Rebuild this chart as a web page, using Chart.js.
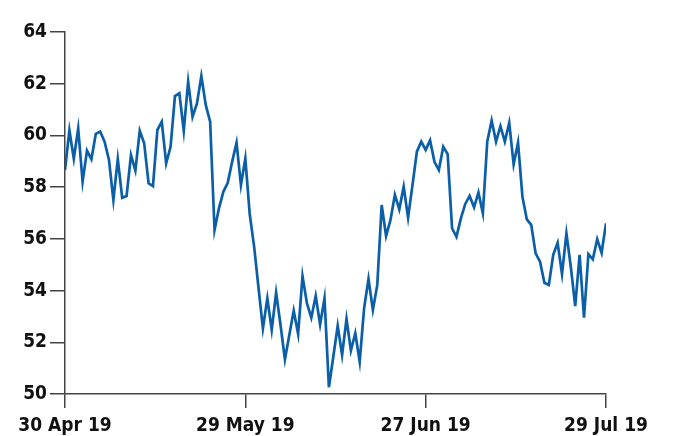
<!DOCTYPE html>
<html>
<head>
<meta charset="utf-8">
<script src="https://cdn.jsdelivr.net/npm/chart.js@4"></script>
<style>
  html, body { margin: 0; padding: 0; background: #fff; }
  #wrap { width: 680px; height: 436px; }
</style>
</head>
<body>
<div id="wrap"><canvas id="price-chart" width="680" height="436"></canvas></div>
<script>
// tick labels and where they sit (point index)
const tickLabels = ['30 Apr 19', '29 May 19', '27 Jun 19', '29 Jul 19'];
const tickIndex = [0, 41, 82, 123];

// price series
const prices = [
  58.66, 60.20, 59.10, 60.27, 58.21, 59.41, 59.08, 60.06, 60.15, 59.76,
  59.05, 57.50, 59.09, 57.59, 57.66, 59.24, 58.64, 60.18, 59.70, 58.15,
  58.04, 60.21, 60.53, 58.92, 59.56, 61.52, 61.63, 60.18, 62.08, 60.72,
  61.24, 62.30, 61.18, 60.53, 56.34, 57.18, 57.82, 58.17, 58.98, 59.72,
  58.08, 59.11, 56.95, 55.70, 54.10, 52.54, 53.70, 52.48, 53.92, 52.67,
  51.34, 52.28, 53.22, 52.32, 54.56, 53.51, 52.95, 53.79, 52.69, 53.70,
  50.26, 51.44, 52.64, 51.51, 52.90, 51.68, 52.35, 51.25, 53.31, 54.45,
  53.25, 54.22, 57.31, 56.11, 56.73, 57.70, 57.14, 58.02, 56.82, 58.08,
  59.37, 59.76, 59.44, 59.81, 58.98, 58.66, 59.56, 59.28, 56.41, 56.08,
  56.79, 57.35, 57.66, 57.22, 57.79, 56.99, 59.76, 60.57, 59.76, 60.36,
  59.76, 60.49, 58.88, 59.72, 57.63, 56.75, 56.54, 55.44, 55.12, 54.30,
  54.22, 55.38, 55.85, 54.64, 56.21, 54.92, 53.40, 55.38, 52.95, 55.41,
  55.21, 55.99, 55.46, 56.60
];

const axisColor = '#444';
Chart.defaults.font.family = '"DejaVu Sans Condensed", "DejaVu Sans", sans-serif';
Chart.defaults.font.size = 19;
Chart.defaults.font.weight = 'bold';
Chart.defaults.color = '#111';

new Chart(document.querySelector('#price-chart').getContext('2d'), {
  type: 'line',
  data: {
    datasets: [{
      data: prices.map((p, i) => ({ x: i, y: p })),
      borderColor: '#0b5ea8',
      borderWidth: 2.7,
      pointRadius: 0,
      tension: 0,
      fill: false
    }]
  },
  options: {
    responsive: false,
    animation: false,
    layout: { padding: { top: 32, right: 74, left: 0, bottom: 0 } },
    plugins: { legend: { display: false }, tooltip: { enabled: false } },
    scales: {
      x: {
        type: 'linear',
        min: 0,
        max: prices.length - 1,
        afterBuildTicks: axis => { axis.ticks = tickIndex.map(v => ({ value: v })); },
        afterFit: axis => { axis.height = 42; },
        ticks: {
          maxRotation: 0,
          autoSkip: false,
          padding: 7,
          callback: v => tickLabels[tickIndex.indexOf(v)]
        },
        grid: { drawOnChartArea: false, tickLength: 14, color: axisColor, lineWidth: 1.5 },
        border: { color: axisColor, width: 1.5 }
      },
      y: {
        min: 50,
        max: 64,
        afterFit: axis => { axis.width = 65; },
        ticks: { stepSize: 2, padding: 3 },
        grid: { drawOnChartArea: false, tickLength: 15, color: axisColor, lineWidth: 1.5 },
        border: { color: axisColor, width: 1.5 }
      }
    }
  }
});
</script>
</body>
</html>
